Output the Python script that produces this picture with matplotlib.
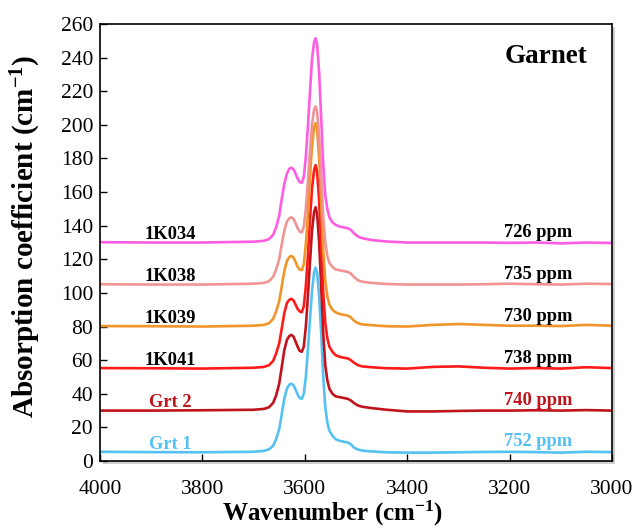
import matplotlib
matplotlib.use("Agg")
import matplotlib.pyplot as plt
from matplotlib.patches import Rectangle

plt.rcParams['font.family'] = ['Liberation Serif', 'DejaVu Serif']
plt.rcParams['mathtext.fontset'] = 'custom'
plt.rcParams['mathtext.rm'] = 'Liberation Serif:bold'
plt.rcParams['mathtext.bf'] = 'Liberation Serif:bold'
plt.rcParams['mathtext.default'] = 'bf'

# ---------------- data ----------------
wavenumber = [4000, 3900, 3800, 3700, 3680, 3670, 3662, 3656, 3650, 3645, 3640, 3635,
              3630, 3626, 3622, 3618, 3614, 3610, 3606, 3602, 3598, 3594, 3590, 3586,
              3582, 3579, 3576, 3572, 3568, 3564, 3560, 3556, 3552, 3546, 3540, 3532,
              3524, 3516, 3510, 3504, 3496, 3488, 3470, 3440, 3400, 3350, 3300, 3250,
              3200, 3150, 3100, 3050, 3000]

grt1 = [5.5, 5.3, 5.2, 5.5, 6, 7, 9, 13, 19, 28, 37, 43,
        45.5, 46, 45, 42.5, 39.5, 37.5, 37, 40, 50, 66, 84, 101,
        112, 115, 112, 98, 76, 50, 32, 23, 18, 15, 13, 12,
        11.5, 11, 10, 8, 6.8, 6.2, 5.7, 5.2, 5, 5, 5.2, 5.4,
        5.5, 5.3, 5, 5.5, 5.3]

grt2 = [30, 30, 30.2, 30.5, 31, 32, 34.5, 39, 46, 56, 66, 72,
        74.5, 75, 74, 71, 68, 65.5, 65, 68, 80, 98, 118, 137,
        148, 151, 147, 130, 104, 76, 57, 48, 43, 40, 38.5, 38,
        37.5, 37, 36, 34.5, 33, 32.3, 31.5, 30.5, 29.5, 29.5, 29.8, 30,
        30, 30.2, 30, 30.3, 30]

k041 = [55.3, 55.2, 55, 55.5, 56, 57, 59.5, 64, 70, 79, 88, 94,
        96, 96.5, 95.5, 93, 90.5, 89, 88.5, 92, 104, 122, 143, 162,
        173, 176, 172, 155, 129, 100, 82, 73, 68, 65, 63, 62,
        61.5, 61, 60, 58.5, 57, 56.3, 55.8, 55.2, 55, 56, 56.3, 55.5,
        55, 55.3, 55, 55.8, 55.3]

k039 = [80.3, 80.2, 80, 80.5, 81, 82, 84.5, 89, 95, 104, 113, 119,
        121.5, 122, 121, 118.5, 115.5, 114, 113.5, 117, 129, 147, 168, 187,
        198, 201, 197, 180, 154, 125, 107, 98, 93, 90, 88.5, 87.5,
        87, 86.5, 85.5, 83.5, 82, 81.3, 80.8, 80.2, 80, 81, 81.5, 81,
        80.5, 80.5, 80.3, 81, 80.5]

k038 = [105.2, 105, 105, 105.5, 106, 107, 109.5, 114, 120, 129, 137, 142.5,
        144.5, 145, 144, 141.5, 138.5, 136.5, 136, 139.5, 150, 166, 184, 200,
        209, 211, 208, 193, 170, 145, 130, 122, 118, 115.5, 114, 113.5,
        113, 112.5, 111.5, 109.5, 107.5, 106.7, 106, 105.3, 105, 105, 105, 105.2,
        105.5, 105.2, 105, 105.5, 105.3]

k034 = [130.2, 130, 130, 130.5, 131, 132, 134.5, 139, 146, 156, 165, 171,
        174, 174.5, 173.5, 171, 168, 166, 165.5, 169, 181, 199, 219, 239,
        249, 251.5, 248, 231, 204, 176, 158, 150, 145, 142, 140.5, 139.5,
        139, 138.5, 137.5, 135.5, 133.5, 132.6, 131.5, 130.6, 130, 130, 130, 130,
        129.8, 130, 129.5, 130, 129.7]

series_names = ["Grt 1", "Grt 2", "1K041", "1K039", "1K038", "1K034"]
series_values = [grt1, grt2, k041, k039, k038, k034]
series_ppm = ["752 ppm", "740 ppm", "738 ppm", "730 ppm", "735 ppm", "726 ppm"]
series_colors = ["#55c1f2", "#c0141c", "#ff1a1a", "#f0952a", "#f09494", "#ff5ce2"]
name_colors = ["#55c1f2", "#c0141c", "black", "black", "black", "black"]
label_y = [7, 32, 57, 82, 107, 132]
ppm_y = [9, 33.5, 58.5, 83.5, 108.5, 133.5]

# ---------------- figure ----------------
fig = plt.figure(figsize=(6.35, 5.29), dpi=100)
ax = fig.add_axes([0.1575, 0.1285, 0.8063, 0.8261])

# drop shadow of the frame
shadow = Rectangle((0.1575 + 0.005, 0.1285 - 0.006), 0.8063, 0.8261,
                   transform=fig.transFigure, facecolor='#b0b0b0',
                   edgecolor='none', alpha=0.6, zorder=0)
fig.patches.append(shadow)
ax.set_facecolor('white')
ax.set_zorder(1)

for vals, col in zip(series_values, series_colors):
    ax.plot(wavenumber, vals, color=col, lw=1.9, solid_joinstyle='round')

for name, ncol, ly in zip(series_names, name_colors, label_y):
    ax.text(3863, ly, name, color=ncol, fontsize=13.3, fontweight='bold',
            ha='center', va='baseline')
for ppm, ncol, py in zip(series_ppm, name_colors, ppm_y):
    ax.text(3145, py, ppm, color=ncol, fontsize=13.3, fontweight='bold',
            ha='center', va='baseline')

ax.text(3128, 240.5, "Garnet", fontsize=19.5, fontweight='bold', ha='center', va='center')

ax.set_xlim(4000, 3000)
ax.set_ylim(0, 260)
ax.set_xticks([4000, 3800, 3600, 3400, 3200, 3000])
ax.set_yticks(range(0, 261, 20))
ax.tick_params(direction='in', length=5, width=1, labelsize=15.5, top=False, right=False)
ax.tick_params(axis='x', pad=14)
ax.tick_params(axis='y', pad=5)
for sp in ax.spines.values():
    sp.set_linewidth(1.2)
    sp.set_color('black')

ax.set_xlabel(r"Wavenumber (cm$^{-1}$)", fontsize=18, fontweight='bold')
ax.set_ylabel(r"Absorption coefficient (cm$^{-1}$)", fontsize=21, fontweight='bold')
ax.xaxis.set_label_coords(0.455, -0.086)
ax.yaxis.set_label_coords(-0.112, 0.515)

fig.savefig("out.png", dpi=100)
